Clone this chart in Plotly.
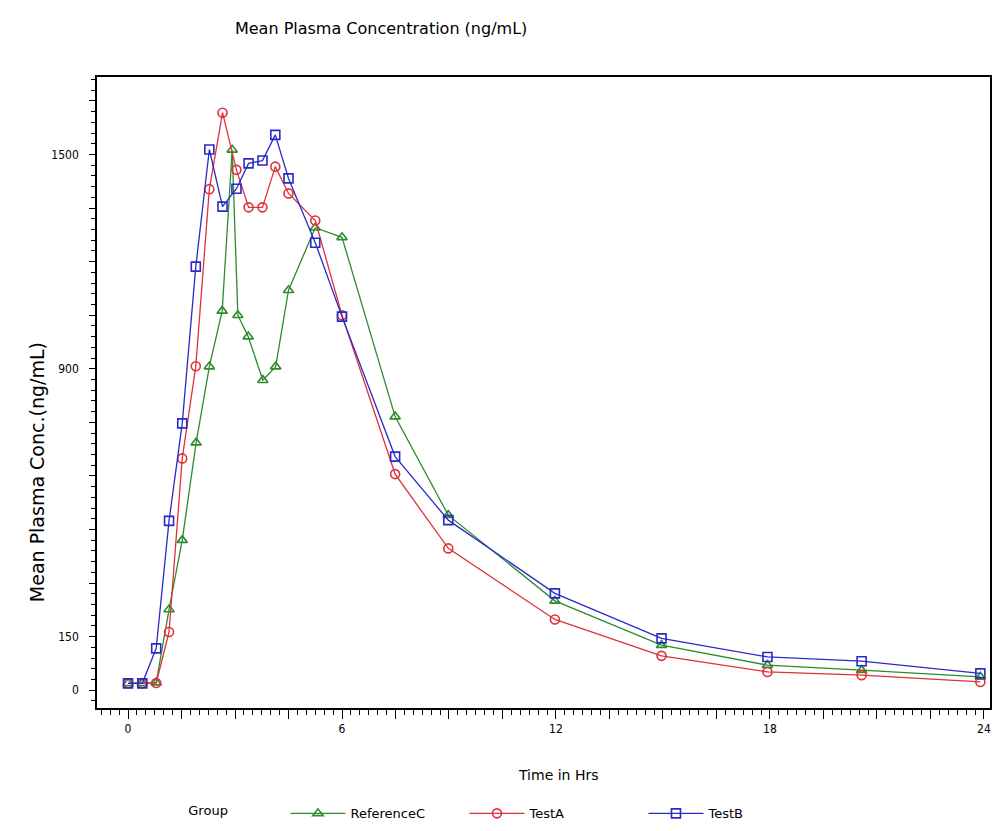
import plotly.graph_objects as go

# ---- data ----
times_ref = [0, 0.4, 0.79, 1.15, 1.52, 1.91, 2.28, 2.64, 2.92, 3.08, 3.37, 3.78, 4.14, 4.5,
             5.25, 6.0, 7.49, 8.98, 11.97, 14.96, 17.93, 20.57, 23.9]
conc_ref = [19, 19, 21, 226, 420, 693, 906, 1062, 1513, 1050, 990, 868, 906, 1120,
            1295, 1268, 766, 490, 250, 126, 70, 56, 37]

times_test = [0, 0.4, 0.79, 1.15, 1.52, 1.9, 2.28, 2.65, 3.04, 3.38, 3.77, 4.13, 4.5,
              5.25, 6.0, 7.49, 8.98, 11.97, 14.96, 17.93, 20.57, 23.9]
conc_testA = [19, 19, 20, 163, 649, 907, 1403, 1617, 1457, 1352, 1352, 1466, 1391,
              1315, 1050, 605, 397, 198, 96, 51, 42, 23]
conc_testB = [19, 19, 117, 474, 747, 1186, 1514, 1354, 1404, 1475, 1483, 1555, 1433,
              1253, 1046, 654, 476, 271, 145, 93, 81, 47]

group_names = ["ReferenceC", "TestA", "TestB"]

x_major = [i * 1.5 for i in range(17)]
x_labels = ["0", "6", "12", "18", "24"]
y_major = [i * 150 for i in range(12)]
y_labels = ["0", "150", "900", "1500"]

FONT = "DejaVu Sans Condensed, Liberation Sans Narrow, Arial Narrow, sans-serif"
WIDE = "DejaVu Sans, Verdana, sans-serif"

fig = go.Figure()
series = [
    (times_ref, conc_ref, group_names[0], "#2e8b2e", "triangle-up-open"),
    (times_test, conc_testA, group_names[1], "#e0303a", "circle-open"),
    (times_test, conc_testB, group_names[2], "#2a2ac8", "square-open"),
]
for t, c, name, col, sym in series:
    fig.add_trace(go.Scatter(
        x=t, y=c, name=name, mode="lines+markers",
        line=dict(color=col, width=1.3),
        marker=dict(symbol=sym, size=9, color=col, line=dict(width=1.6, color=col)),
    ))

xtt = [(str(int(v)) if v == int(v) and str(int(v)) in x_labels else "") for v in x_major]
ytt = [(str(v) if str(v) in y_labels else "") for v in y_major]

# page body has an 8px margin, so the figure is sized/margined to compensate
fig.update_layout(
    width=995, height=823,
    margin=dict(l=89, r=13, t=69, b=123, autoexpand=False),
    paper_bgcolor="white", plot_bgcolor="white",
    font=dict(family=FONT, size=12, color="black"),
    title=dict(text="Mean Plasma Concentration (ng/mL)", x=0.375, xanchor="center",
               y=0.975, yanchor="middle", font=dict(family=WIDE, size=16, color="black")),
    showlegend=True,
    legend=dict(orientation="h", x=0.1, xanchor="left", y=-0.167, yanchor="middle",
                title=dict(text="Group" + "\u00a0" * 12, font=dict(family=WIDE, size=13)),
                font=dict(family=WIDE, size=13), itemwidth=55, entrywidth=109,
                bgcolor="rgba(0,0,0,0)"),
    xaxis=dict(
        range=[-0.87, 24.17], showgrid=False, zeroline=False, automargin=False,
        showline=True, linecolor="black", linewidth=1.6, mirror=True,
        tickmode="array", tickvals=x_major, ticktext=xtt,
        ticks="outside", ticklen=9, tickwidth=1.2, tickcolor="black",
        minor=dict(dtick=0.25, tick0=0, ticks="outside", ticklen=5, tickwidth=1, tickcolor="black"),
        tickfont=dict(family=FONT, size=12),
    ),
    yaxis=dict(
        range=[-50, 1717], showgrid=False, zeroline=False, automargin=False,
        showline=True, linecolor="black", linewidth=1.6, mirror=True,
        tickmode="array", tickvals=y_major, ticktext=ytt,
        ticks="outside", ticklen=6, tickwidth=1.2, tickcolor="black",
        minor=dict(dtick=30, tick0=0, ticks="outside", ticklen=4, tickwidth=1, tickcolor="black"),
        tickfont=dict(family=FONT, size=12),
        ticklabelstandoff=8,
    ),
    annotations=[
        dict(text="Time in Hrs", xref="paper", yref="paper", x=0.517, y=-0.106,
             xanchor="center", yanchor="middle", showarrow=False,
             font=dict(family=WIDE, size=14, color="black")),
        dict(text="Mean Plasma Conc.(ng/mL)", xref="paper", yref="paper", x=-0.067, y=0.374,
             xanchor="center", yanchor="middle", showarrow=False, textangle=-90,
             font=dict(family=WIDE, size=19, color="black")),
    ],
)

fig.write_html("out.html")
